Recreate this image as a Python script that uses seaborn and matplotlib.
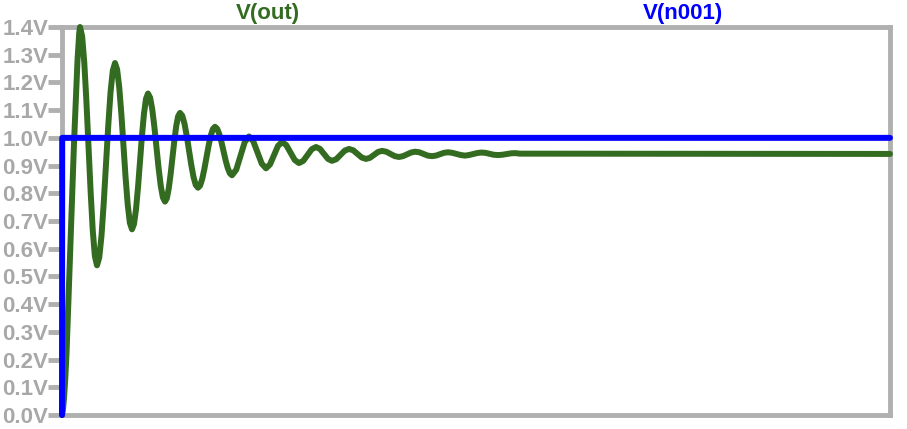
import matplotlib
matplotlib.use("Agg")
import matplotlib.pyplot as plt
import seaborn as sns
import pandas as pd

# Time (µs, arbitrary units read from pixel positions) and V(out) values
t_out = [0, 1, 2, 3.25, 4.5, 5.75, 7, 8.25, 9.5, 10.75, 12, 13.25, 14.5, 15.5, 16.5, 17.25, 18,
         20.125, 22.25, 24.375, 26.5, 28.625, 30.75, 32.875, 35,
         37.25, 39.5, 41.75, 44, 46.25, 48.5, 50.75, 53,
         55.125, 57.25, 59.375, 61.5, 63.625, 65.75, 67.875, 70,
         72, 74, 76, 78, 80, 82, 84, 86,
         88.125, 90.25, 92.375, 94.5, 96.625, 98.75, 100.875, 103,
         104.875, 106.75, 108.625, 110.5, 112.375, 114.25, 116.125, 118,
         120.25, 122.5, 124.75, 127, 129.25, 131.5, 133.75, 136,
         138.125, 140.25, 142.375, 144.5, 146.625, 148.75, 150.875, 153,
         155.125, 157.25, 159.375, 161.5, 163.625, 165.75, 167.875, 170,
         174.25, 178.5, 182.75, 187,
         191.25, 195.5, 199.75, 204,
         208, 212, 216, 220,
         224.25, 228.5, 232.75, 237,
         241.25, 245.5, 249.75, 254,
         258, 262, 266, 270,
         274.25, 278.5, 282.75, 287,
         291.25, 295.5, 299.75, 304,
         308, 312, 316, 320,
         324.25, 328.5, 332.75, 337,
         341, 345, 349, 353,
         357.25, 361.5, 365.75, 370,
         374, 378, 382, 386,
         390.25, 394.5, 398.75, 403,
         407, 411, 415, 419,
         423.25, 427.5, 431.75, 436,
         440.25, 444.5, 448.75, 453,
         458, 828]
v_out = [0.0, 0.02, 0.06, 0.13, 0.22, 0.34, 0.47, 0.60, 0.72, 0.85, 0.98, 1.09, 1.20, 1.28, 1.34, 1.38, 1.40,
         1.367, 1.274, 1.134, 0.97, 0.806, 0.666, 0.573, 0.54,
         0.568, 0.647, 0.766, 0.905, 1.044, 1.163, 1.242, 1.27,
         1.247, 1.182, 1.085, 0.97, 0.855, 0.758, 0.693, 0.67,
         0.689, 0.742, 0.821, 0.915, 1.009, 1.088, 1.141, 1.16,
         1.145, 1.103, 1.04, 0.965, 0.89, 0.827, 0.785, 0.77,
         0.782, 0.817, 0.869, 0.93, 0.991, 1.043, 1.078, 1.09,
         1.08, 1.051, 1.007, 0.955, 0.903, 0.859, 0.83, 0.82,
         0.828, 0.852, 0.888, 0.93, 0.972, 1.008, 1.032, 1.04,
         1.033, 1.014, 0.986, 0.953, 0.919, 0.891, 0.872, 0.865,
         0.885, 0.935, 0.985, 1.005,
         0.988, 0.948, 0.907, 0.89,
         0.904, 0.938, 0.971, 0.985,
         0.974, 0.947, 0.92, 0.909,
         0.917, 0.938, 0.959, 0.967,
         0.96, 0.942, 0.924, 0.917,
         0.923, 0.9385, 0.954, 0.96,
         0.955, 0.942, 0.929, 0.924,
         0.928, 0.9385, 0.949, 0.953,
         0.95, 0.942, 0.934, 0.931,
         0.934, 0.9405, 0.947, 0.95,
         0.948, 0.942, 0.936, 0.934,
         0.936, 0.941, 0.946, 0.948,
         0.946, 0.942, 0.938, 0.936,
         0.938, 0.9415, 0.945, 0.947,
         0.946, 0.9425, 0.939, 0.938,
         0.939, 0.9415, 0.944, 0.945,
         0.943, 0.942]

# V(n001): step input
t_in = [0, 0.2, 828]
v_in = [0.0, 1.0, 1.0]

y_ticks = [0.0, 0.1, 0.2, 0.3, 0.4, 0.5, 0.6, 0.7, 0.8, 0.9, 1.0, 1.1, 1.2, 1.3, 1.4]
y_labels = ["0.0V", "0.1V", "0.2V", "0.3V", "0.4V", "0.5V", "0.6V", "0.7V",
            "0.8V", "0.9V", "1.0V", "1.1V", "1.2V", "1.3V", "1.4V"]

sns.set_style("white")
plt.rcParams['font.family'] = ['Liberation Sans', 'DejaVu Sans']

GREEN = "#336b21"
BLUE = "#0000ff"
GRAY = "#b0b0b0"

fig = plt.figure(figsize=(9.07, 4.29), dpi=100)
ax = fig.add_axes([62 / 907, 1 - 415 / 429, (890 - 62) / 907, (415 - 27) / 429])

df_out = pd.DataFrame({"t": t_out, "v": v_out})
df_in = pd.DataFrame({"t": t_in, "v": v_in})
sns.lineplot(data=df_out, x="t", y="v", ax=ax, color=GREEN, linewidth=4.3,
             sort=False, zorder=4, clip_on=False, solid_capstyle="round",
             solid_joinstyle="round")
sns.lineplot(data=df_in, x="t", y="v", ax=ax, color=BLUE, linewidth=4.3,
             sort=False, zorder=5, clip_on=False, solid_capstyle="round")

ax.set_xlim(0, 828)
ax.set_ylim(0, 1.4)
ax.set_xticks([])
ax.set_yticks(y_ticks)
ax.set_yticklabels(y_labels)
ax.set_xlabel("")
ax.set_ylabel("")

for s in ax.spines.values():
    s.set_color(GRAY)
    s.set_linewidth(3.5)
    s.set_zorder(1)
ax.tick_params(axis="y", colors=GRAY, length=10, width=3.5, pad=0,
               direction="out", left=True)
for lab in ax.get_yticklabels():
    lab.set_fontsize(16)
    lab.set_fontweight("bold")
    lab.set_color("#a8a8a8")

fig.text(268 / 907, 1 - 13 / 429, "V(out)", color=GREEN, fontsize=16,
         fontweight="bold", ha="center", va="center")
fig.text(683 / 907, 1 - 13 / 429, "V(n001)", color=BLUE, fontsize=16,
         fontweight="bold", ha="center", va="center")

fig.savefig("out.png", dpi=100, facecolor="white")
